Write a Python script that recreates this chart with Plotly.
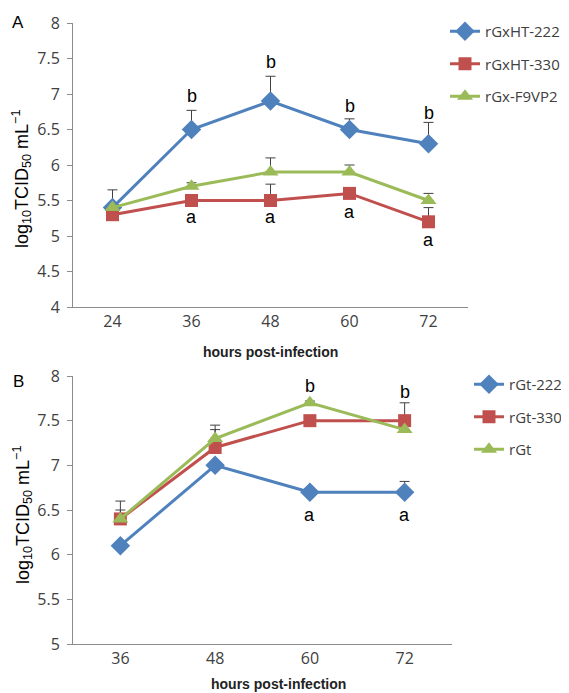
import plotly.graph_objects as go

# ---------------- Data ----------------
hours_a = ["24", "36", "48", "60", "72"]
a_222 = [5.4, 6.5, 6.9, 6.5, 6.3]
a_222_err = [0.25, 0.27, 0.35, 0.15, 0.3]
a_330 = [5.3, 5.5, 5.5, 5.6, 5.2]
a_330_err = [0.0, 0.07, 0.23, 0.05, 0.2]
a_f9 = [5.4, 5.7, 5.9, 5.9, 5.5]
a_f9_err = [0.0, 0.05, 0.2, 0.1, 0.1]
# significance letters: (category index, y value, letter)
a_letters = [(1, 6.97, "b"), (2, 7.45, "b"), (3, 6.83, "b"), (4, 6.73, "b"),
             (1, 5.27, "a"), (2, 5.27, "a"), (3, 5.34, "a"), (4, 4.94, "a")]

hours_b = ["36", "48", "60", "72"]
b_222 = [6.1, 7.0, 6.7, 6.7]
b_222_err = [0.0, 0.0, 0.03, 0.12]
b_330 = [6.4, 7.2, 7.5, 7.5]
b_330_err = [0.2, 0.2, 0.05, 0.2]
b_rgt = [6.4, 7.3, 7.7, 7.4]
b_rgt_err = [0.1, 0.15, 0.02, 0.0]
b_letters = [(2, 7.89, "b"), (3, 7.82, "b"), (2, 6.44, "a"), (3, 6.44, "a")]

names_a = ["rGxHT-222", "rGxHT-330", "rGx-F9VP2"]
names_b = ["rGt-222", "rGt-330", "rGt"]

BLUE = "#4F81BD"
RED = "#C0504D"
GREEN = "#9BBB59"
ERR = "#404040"
AXIS = "#8C8C8C"
TXT = "#404040"
FONT = "Liberation Sans"
TICKFONT = "Open Sans"

# page body has an 8px margin; the figure starts at (8, 8) in the window
OFF = 8
W, H = 569 - OFF, 693 - OFF


def fx(px):  # screen x pixel -> paper fraction
    return (px - OFF) / W


def fy(py):  # screen y pixel -> paper fraction
    return 1 - (py - OFF) / H


fig = go.Figure()


def add_series(x, y, err, name, color, symbol, size, xa, ya, legend):
    fig.add_trace(go.Scatter(
        x=x, y=y, name=name, mode="lines+markers",
        xaxis=xa, yaxis=ya, legend=legend, legendgroup=name,
        line=dict(color=color, width=3),
        marker=dict(symbol=symbol, size=size, color=color),
        error_y=dict(type="data", array=err, arrayminus=[0] * len(err),
                     symmetric=False, color=ERR, thickness=1, width=5),
    ))


add_series(hours_a, a_222, a_222_err, names_a[0], BLUE, "diamond", 15, "x", "y", "legend")
add_series(hours_a, a_330, a_330_err, names_a[1], RED, "square", 13, "x", "y", "legend")
add_series(hours_a, a_f9, a_f9_err, names_a[2], GREEN, "triangle-up", 14, "x", "y", "legend")

add_series(hours_b, b_222, b_222_err, names_b[0], BLUE, "diamond", 15, "x2", "y2", "legend2")
add_series(hours_b, b_330, b_330_err, names_b[1], RED, "square", 13, "x2", "y2", "legend2")
add_series(hours_b, b_rgt, b_rgt_err, names_b[2], GREEN, "triangle-up", 14, "x2", "y2", "legend2")

annotations = []
for xi, yv, t in a_letters:
    annotations.append(dict(x=xi, y=yv, xref="x", yref="y", showarrow=False, text=t,
                            xanchor="center", yanchor="middle",
                            font=dict(family=FONT, size=18, color="black")))
for xi, yv, t in b_letters:
    annotations.append(dict(x=xi, y=yv, xref="x2", yref="y2", showarrow=False, text=t,
                            xanchor="center", yanchor="middle",
                            font=dict(family=FONT, size=18, color="black")))

ytitle = "log<sub>10</sub>TCID<sub>50</sub> mL<sup>\u22121</sup>"


def pa(x, y, text, size, angle=0, color="black"):
    return dict(x=fx(x), y=fy(y), xref="paper", yref="paper", text=text,
                showarrow=False, xanchor="center", yanchor="middle", textangle=angle,
                font=dict(family=FONT, size=size, color=color))


annotations += [
    pa(18, 23, "A", 17),
    pa(18, 381, "B", 17),
    pa(22, 179, ytitle, 18, -90),
    pa(22, 515, ytitle, 18, -90),
    pa(270, 352, "<b>hours post-infection</b>", 14, 0, "#222222"),
    pa(278, 684, "<b>hours post-infection</b>", 14, 0, "#222222"),
]

axis_common = dict(showline=True, linecolor=AXIS, linewidth=1, showgrid=False,
                   zeroline=False, automargin=False,
                   tickfont=dict(family=TICKFONT, size=16, color=TXT))

fig.update_layout(
    width=W, height=H,
    margin=dict(l=0, r=0, t=0, b=0, autoexpand=False),
    paper_bgcolor="white", plot_bgcolor="white",
    font=dict(family=FONT, color=TXT),
    annotations=annotations,
    xaxis=dict(domain=[fx(73), fx(468)], anchor="y", type="category",
               range=[-0.5, 4.5], ticks="", **axis_common),
    yaxis=dict(domain=[fy(307), fy(23)], anchor="x", range=[4, 8],
               dtick=0.5, ticks="outside", ticklen=5, tickcolor=AXIS,
               ticklabelstandoff=4, **axis_common),
    xaxis2=dict(domain=[fx(73), fx(452)], anchor="y2", type="category",
                range=[-0.5, 3.5], ticks="", **axis_common),
    yaxis2=dict(domain=[fy(644), fy(376)], anchor="x2", range=[5, 8],
                dtick=0.5, ticks="outside", ticklen=5, tickcolor=AXIS,
                ticklabelstandoff=4, **axis_common),
    legend=dict(x=fx(445), y=fy(15), xanchor="left", yanchor="top",
                bgcolor="rgba(0,0,0,0)", tracegroupgap=10, itemsizing="trace",
                font=dict(family=TICKFONT, size=15, color=TXT)),
    legend2=dict(x=fx(469), y=fy(368), xanchor="left", yanchor="top",
                 bgcolor="rgba(0,0,0,0)", tracegroupgap=10, itemsizing="trace",
                 font=dict(family=TICKFONT, size=15, color=TXT)),
)

fig.write_html("out.html")
